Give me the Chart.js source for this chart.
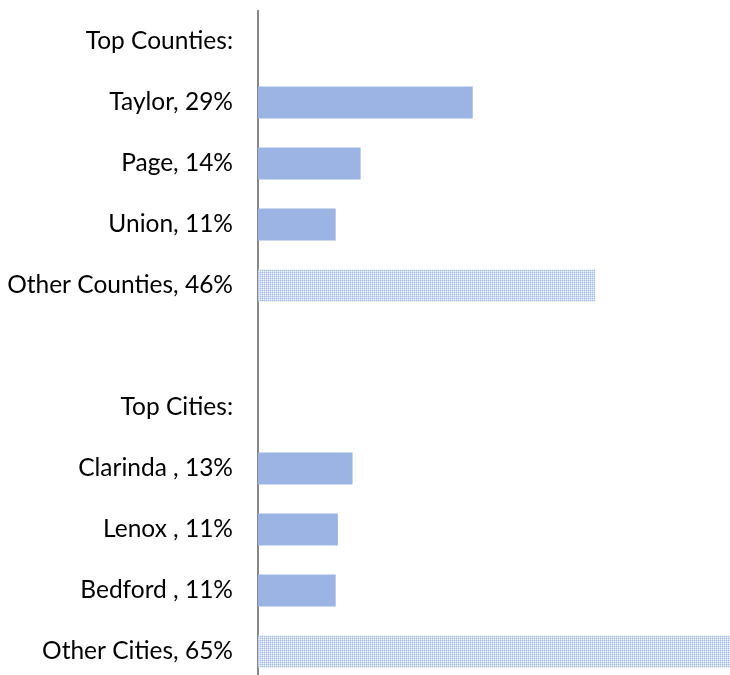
<!DOCTYPE html>
<html>
<head>
<meta charset="utf-8">
<script src="https://cdn.jsdelivr.net/npm/chart.js@4"></script>
<style>
  html, body { margin: 0; padding: 0; background: #fff; overflow: hidden; }
  #wrap { width: 730px; height: 682px; }
</style>
</head>
<body>
<div id="wrap"><canvas id="myChart" width="730" height="682"></canvas></div>
<script>
  // rows of the chart, top to bottom ('' = spacer row)
  const labels = ['Top Counties:', 'Taylor, 29%', 'Page, 14%', 'Union, 11%', 'Other Counties, 46%',
                  '', 'Top Cities:', 'Clarinda , 13%', 'Lenox , 11%', 'Bedford , 11%', 'Other Cities, 65%'];
  const shares = [null, 29.3, 14.0, 10.6, 46.0, null, null, 12.9, 10.9, 10.6, 65.0];

  // dotted fill used for the "Other" rows
  const pc = document.createElement('canvas');
  pc.width = 2; pc.height = 2;
  const px = pc.getContext('2d');
  px.fillStyle = '#cad7f3'; px.fillRect(0, 0, 2, 2);
  px.fillStyle = '#a9bfe9'; px.fillRect(0, 0, 1, 1);
  px.fillStyle = '#f3f6fc'; px.fillRect(1, 1, 1, 1);
  const dotted = px.createPattern(pc, 'repeat');

  const colors = labels.map(l => l.startsWith('Other') ? dotted : '#9cb4e3');

  const ctx = document.getElementById('myChart').getContext('2d');
  Chart.defaults.font.family = 'Lato, "Open Sans", sans-serif';
  new Chart(ctx, {
    type: 'bar',
    data: {
      labels: labels,
      datasets: [{
        data: shares,
        backgroundColor: colors,
        borderWidth: 0,
        categoryPercentage: 1,
        barPercentage: 0.525
      }]
    },
    options: {
      indexAxis: 'y',
      responsive: false,
      animation: false,
      layout: {
        padding: { top: 11, right: 0, bottom: 0, left: 0 }
      },
      scales: {
        x: {
          display: false,
          min: 0,
          max: 64.4
        },
        y: {
          afterFit: s => { s.width = 258; s.paddingTop = 0; s.paddingBottom = 0; },
          grid: { display: false, drawTicks: false },
          border: { display: true, color: '#878787', width: 2 },
          ticks: {
            color: '#000',
            padding: 25,
            font: { size: 24.5 }
          }
        }
      },
      plugins: {
        legend: { display: false },
        tooltip: { enabled: false }
      }
    }
  });
</script>
</body>
</html>
